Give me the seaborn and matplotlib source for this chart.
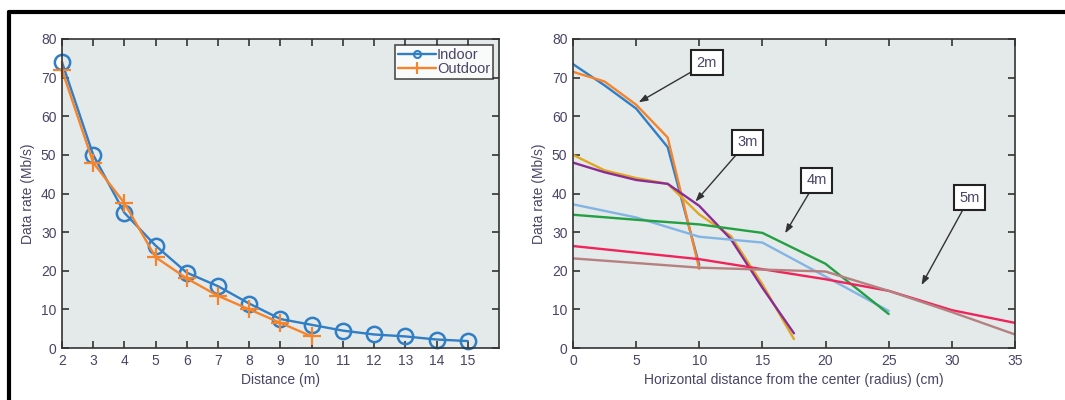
import pandas as pd
import matplotlib.pyplot as plt
import seaborn as sns
from matplotlib.lines import Line2D

# left panel: data rate vs distance
distance_in = [2, 3, 4, 5, 6, 7, 8, 9, 10, 11, 12, 13, 14, 15]
indoor = [74, 50, 35, 26.5, 19.5, 16, 11.5, 7.5, 6, 4.5, 3.5, 3, 2.2, 1.8]
distance_out = [2, 3, 4, 5, 6, 7, 8, 9, 10]
outdoor = [72, 48, 37.5, 23.5, 18, 13.5, 10, 6.5, 3]

# right panel: data rate vs radius, two curves per height
r_2m = [0, 2.5, 5, 7.5, 10]
rate_2m_a = [73.5, 68, 62, 52, 21.5]
rate_2m_b = [71.5, 69, 63, 54.5, 20.5]
r_3m = [0, 2.5, 5, 7.5, 10, 12.5, 15, 17.5]
rate_3m_a = [50, 46, 44, 42.5, 34.6, 29, 16.5, 2.3]
rate_3m_b = [48, 45.5, 43.5, 42.5, 36.8, 28.2, 15.6, 3.8]
r_4m = [0, 5, 10, 15, 20, 25]
rate_4m_a = [37.2, 33.8, 28.8, 27.3, 18.5, 9.6]
rate_4m_b = [34.5, 33.2, 32, 29.8, 21.8, 8.8]
r_5m = [0, 10, 20, 25, 30, 35]
rate_5m_a = [26.4, 23, 17.8, 14.8, 9.8, 6.5]
rate_5m_b = [23.2, 20.8, 19.8, 14.8, 9.3, 3.5]

series_names = ['2m a', '2m b', '3m a', '3m b', '4m a', '4m b', '5m a', '5m b']
series_x = [r_2m, r_2m, r_3m, r_3m, r_4m, r_4m, r_5m, r_5m]
series_y = [rate_2m_a, rate_2m_b, rate_3m_a, rate_3m_b,
            rate_4m_a, rate_4m_b, rate_5m_a, rate_5m_b]
series_colors = ['#2f7ec6', '#f5842a', '#e0a820', '#8a2c96',
                 '#82b4e4', '#22a043', '#f0245a', '#b58080']

# box labels: text, box centre, arrow head
labels = ['2m', '3m', '4m', '5m']
label_pos = [(10.6, 73.8), (13.8, 53.3), (19.3, 43.4), (31.4, 38.9)]
arrow_head = [(5.2, 63.6), (9.7, 37.9), (16.8, 29.7), (27.6, 16.3)]

sns.set_style('ticks')
plt.rcParams['font.family'] = ['Liberation Sans', 'DejaVu Sans']
txt = '#4a4466'
bg = '#e4e9e9'
c_in = '#2f7ec6'
c_out = '#f5842a'

fig = plt.figure(figsize=(10.65, 4.0), dpi=100)
ax1 = fig.add_axes([0.0582, 0.13, 0.4103, 0.7725])
ax2 = fig.add_axes([0.538, 0.13, 0.415, 0.7725])

sns.lineplot(x=distance_in, y=indoor, color=c_in, marker='o', markersize=11,
             markerfacecolor='none', markeredgecolor=c_in, markeredgewidth=1.8,
             linewidth=1.7, clip_on=False, ax=ax1)
sns.lineplot(x=distance_out, y=outdoor, color=c_out, marker='+', markersize=13,
             markeredgecolor=c_out, markeredgewidth=1.6, linewidth=1.7,
             clip_on=False, ax=ax1)
ax1.set_xlim(2, 16)
ax1.set_ylim(0, 80)
ax1.set_xticks(range(2, 16))
ax1.set_yticks(range(0, 81, 10))
ax1.set_xlabel('Distance (m)', color=txt, fontsize=10)
ax1.set_ylabel('Data rate (Mb/s)', color=txt, fontsize=10)

handles = [Line2D([], [], color=c_in, marker='o', markersize=5,
                  markerfacecolor='none', markeredgewidth=1.5, lw=1.7),
           Line2D([], [], color=c_out, marker='+', markersize=9,
                  markeredgewidth=1.5, lw=1.7)]
leg = ax1.legend(handles, ['Indoor', 'Outdoor'], loc='upper right',
                 fancybox=False, frameon=True, fontsize=10.5,
                 handlelength=2.6, handletextpad=0.1, borderpad=0.2,
                 labelspacing=0.05, borderaxespad=0.4)
leg.get_frame().set_edgecolor('#222222')
leg.get_frame().set_linewidth(1.2)
for t in leg.get_texts():
    t.set_color(txt)

right_rows = []
for name, xs, ys in zip(series_names, series_x, series_y):
    right_rows.append(pd.DataFrame({'Radius': xs, 'Rate': ys, 'series': name}))
right_df = pd.concat(right_rows)
sns.lineplot(data=right_df, x='Radius', y='Rate', hue='series',
             palette=dict(zip(series_names, series_colors)),
             sort=False, estimator=None, linewidth=1.7, ax=ax2, legend=False)
ax2.set_xlim(0, 35)
ax2.set_ylim(0, 80)
ax2.set_xticks(range(0, 36, 5))
ax2.set_yticks(range(0, 81, 10))
ax2.set_xlabel('Horizontal distance from the center (radius) (cm)', color=txt, fontsize=10)
ax2.set_ylabel('Data rate (Mb/s)', color=txt, fontsize=10)

for lab, pos, head in zip(labels, label_pos, arrow_head):
    ax2.annotate(lab, xy=head, xytext=pos, ha='center', va='center',
                 fontsize=10.5, color=txt, zorder=5,
                 bbox=dict(boxstyle='square,pad=0.38', fc='white', ec='#222222', lw=1.5),
                 arrowprops=dict(arrowstyle='-|>,head_length=0.5,head_width=0.18',
                                 color='#333333', lw=1.0, shrinkA=0, shrinkB=0))

for ax in (ax1, ax2):
    ax.set_facecolor(bg)
    ax.tick_params(direction='in', top=True, right=True, length=5, width=1.2,
                   colors='#333333', labelcolor=txt, labelsize=10, pad=4)
    for s in ax.spines.values():
        s.set_color('#333333')
        s.set_linewidth(1.2)

# outer black frame (top and left edges)
fig.add_artist(Line2D([0.0085, 1.0], [0.97, 0.97], color='black', lw=3,
                      transform=fig.transFigure))
fig.add_artist(Line2D([0.0085, 0.0085], [0.0, 0.97], color='black', lw=3,
                      transform=fig.transFigure))

plt.savefig('out.png', dpi=100)
